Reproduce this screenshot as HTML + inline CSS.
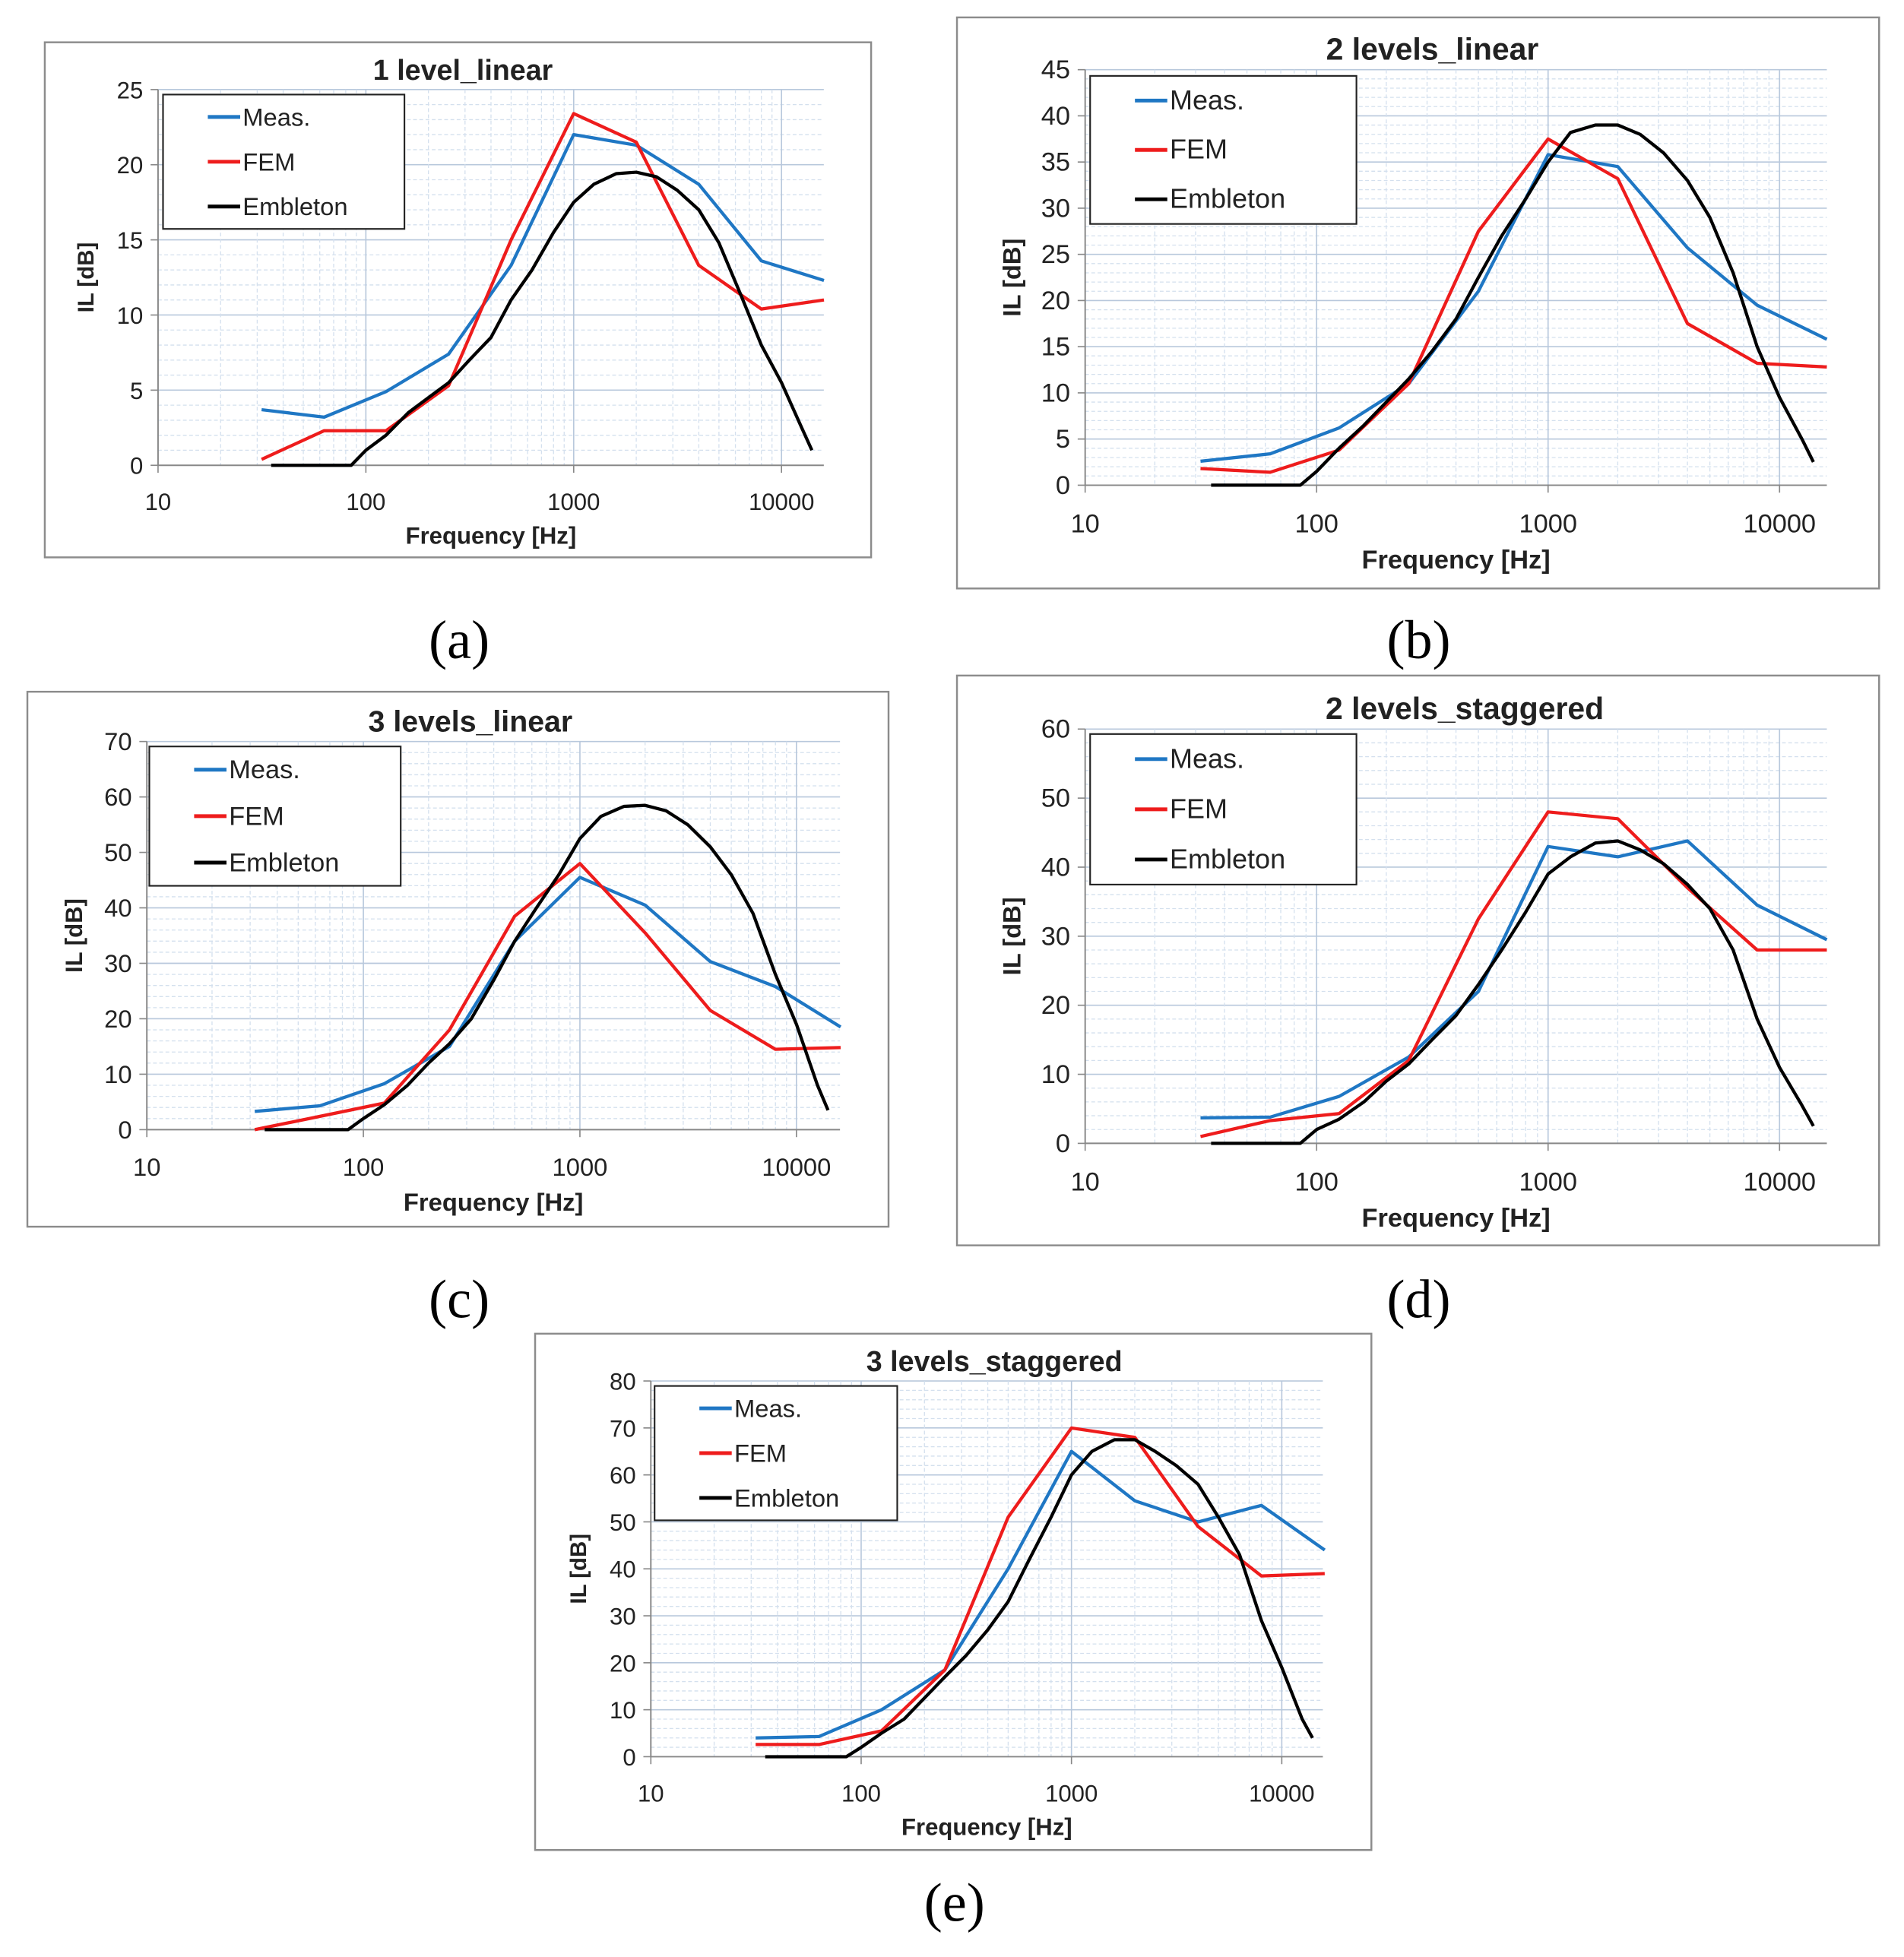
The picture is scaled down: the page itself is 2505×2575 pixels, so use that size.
<!DOCTYPE html>
<html><head><meta charset="utf-8"><style>
html,body{margin:0;padding:0;background:#fff;}
svg{display:block;}
text{font-family:"Liberation Sans",sans-serif;}
text.lab{font-family:"Liberation Serif",serif;}
</style></head><body>
<svg id="fig" width="2505" height="2575" viewBox="0 0 1530 1573" preserveAspectRatio="none" xmlns="http://www.w3.org/2000/svg"></svg>
<script>
const freqs = [31.5,63,125,250,500,1000,2000,4000,8000,16000];
const embFreqs = [35,85,100,125,160,200,250,315,400,500,630,800,1000,1250,1600,2000,2500,3150,4000,5000,6300,8000,10000,12500,14000];
const seriesNames = ["Meas.","FEM","Embleton"];
const measA = [3.7,3.2,4.9,7.4,13.3,22,21.3,18.7,13.6,12.3];
const femA = [0.4,2.3,2.3,5.3,15,23.4,21.5,13.3,10.4,11];
const embA = [0,0,1,2,3.5,4.5,5.5,7,8.5,11,13,15.5,17.5,18.7,19.4,19.5,19.2,18.3,17,14.8,11.5,8,5.5,2.5,1];
const measB = [2.6,3.4,6.2,11,21,35.8,34.5,25.7,19.5,15.8];
const femB = [1.8,1.4,3.8,11,27.5,37.5,33.2,17.5,13.2,12.8];
const embB = [0,0,1.5,4,6.5,9,11.5,14.5,18,22.5,27,31,35,38.2,39,39,38,36,33,29,23,15,9.5,5,2.5];
const measC = [3.3,4.3,8.3,15,34,45.5,40.5,30.3,25.8,18.5];
const femC = [0,2.4,4.8,18,38.5,48,35.5,21.5,14.5,14.8];
const embC = [0,0,2,4.5,8,12,15.5,20,27,34,40,46,52.5,56.5,58.3,58.5,57.5,55,51,46,39,28,19,8,3.5];
const measD = [3.7,3.8,6.8,12.5,22,43,41.5,43.8,34.5,29.5];
const femD = [1,3.3,4.3,12,32.5,48,47,37,28,28];
const embD = [0,0,2,3.5,6,9,11.5,15,18.5,23,28,33.5,39,41.5,43.5,43.8,42.5,40.5,37.5,34,28,18,11,5.5,2.5];
const measE = [4,4.3,10,18.5,40,65,54.5,50,53.5,44];
const femE = [2.6,2.6,5.5,18.5,51,70,68,49,38.5,39];
const embE = [0,0,2,5,8,12.5,17,21.5,27,33,42,51,60,65,67.5,67.5,65,62,58,51,43,29,19,8,4];
const xTickLabels = ["10","100","1000","10000"];

const NS="http://www.w3.org/2000/svg";
const svg=document.getElementById('fig');
function el(tag,attrs,parent){const e=document.createElementNS(NS,tag);for(const k in attrs)e.setAttribute(k,attrs[k]);(parent||svg).appendChild(e);return e;}

const panels=[
 {id:'a',title:'1 level_linear',tx:372,frame:[36,34,700,448],x10:127,dec:167,xR:662,y0:374,yT:72,yMax:25,step:5,leg:[131,76,325,184],meas:measA,fem:femA,emb:embA,lab:[369,515],fs:19},
 {id:'b',title:'2 levels_linear',tx:1151,frame:[769,14,1510,473],x10:872,dec:186,xR:1468,y0:390,yT:56,yMax:45,step:5,leg:[876,61,1090,180],meas:measB,fem:femB,emb:embB,lab:[1140,515],fs:21},
 {id:'c',title:'3 levels_linear',tx:378,frame:[22,556,714,986],x10:118,dec:174,xR:675,y0:908,yT:596,yMax:70,step:10,leg:[120,600,322,712],meas:measC,fem:femC,emb:embC,lab:[369,1045],fs:20},
 {id:'d',title:'2 levels_staggered',tx:1177,frame:[769,543,1510,1001],x10:872,dec:186,xR:1468,y0:919,yT:586,yMax:60,step:10,leg:[876,590,1090,711],meas:measD,fem:femD,emb:embD,lab:[1140,1045],fs:21},
 {id:'e',title:'3 levels_staggered',tx:799,frame:[430,1072,1102,1487],x10:523,dec:169,xR:1063,y0:1412,yT:1110,yMax:80,step:10,leg:[526,1114,721,1222],meas:measE,fem:femE,emb:embE,lab:[767,1530],fs:19}
];

panels.forEach(p=>{
  const g=el('g',{});
  
  
  const [fx1,fy1,fx2,fy2]=p.frame;
  const fr=el('rect',{x:fx1,y:fy1,width:fx2-fx1,height:fy2-fy1,fill:'#fff',stroke:'#8c8c8c','stroke-width':1.5},g);
  
  
  const X=f=>p.x10+Math.log10(f/10)*p.dec;
  const Y=v=>p.y0-(v/p.yMax)*(p.y0-p.yT);
  const grid=el('g',{},g);
  
  
  const minorStep=p.step/5;
  for(let v=minorStep;v<=p.yMax+1e-9;v+=minorStep){
    const major=Math.abs(v/p.step-Math.round(v/p.step))<1e-6;
    el('line',{x1:p.x10,x2:p.xR,y1:Y(v),y2:Y(v),stroke:major?'#b8c8dc':'#d4e0ee','stroke-width':major?1:0.8,'stroke-dasharray':major?'':'3,2'},grid);
  }
  for(let d=10;d<=10000;d*=10){
    for(let k=1;k<10;k++){
      const f=d*k; const x=X(f); if(x>p.xR+0.5) continue;
      if(k==1 && d==10) continue;
      el('line',{x1:x,x2:x,y1:p.yT,y2:p.y0,stroke:k==1?'#b8c8dc':'#d4e0ee','stroke-width':k==1?1:0.8,'stroke-dasharray':k==1?'':'3,2'},grid);
    }
  }
  el('line',{x1:p.x10,x2:p.xR,y1:p.y0,y2:p.y0,stroke:'#888','stroke-width':1.2},g);
  el('line',{x1:p.x10,x2:p.x10,y1:p.yT,y2:p.y0,stroke:'#888','stroke-width':1.2},g);
  for(let v=0;v<=p.yMax;v+=p.step){
    el('line',{x1:p.x10-6,x2:p.x10,y1:Y(v),y2:Y(v),stroke:'#888'},g);
    const t=el('text',{x:p.x10-12,y:Y(v)+7,'text-anchor':'end','font-size':p.fs,fill:'#222'},g);
    t.textContent=v;
    
    
  }
  xTickLabels.forEach(l=>{
    const x=X(+l);
    el('line',{x1:x,x2:x,y1:p.y0,y2:p.y0+6,stroke:'#888'},g);
    const t=el('text',{x:x,y:p.y0+p.fs+17,'text-anchor':'middle','font-size':p.fs,fill:'#222'},g);
    t.textContent=l;
    
    
  });
  const xt=el('text',{x:(p.x10+p.xR)/2,y:p.y0+p.fs*2+25,'text-anchor':'middle','font-size':p.fs,'font-weight':'bold',fill:'#222'},g);
  xt.textContent='Frequency [Hz]';
  
  
  const yx=p.x10-52, yy=(p.yT+p.y0)/2;
  const yt=el('text',{x:yx,y:yy,'text-anchor':'middle','font-size':p.fs-1,'font-weight':'bold',fill:'#222',transform:`rotate(-90 ${yx} ${yy})`},g);
  yt.textContent='IL [dB]';
  
  
  const tt=el('text',{x:p.tx,y:p.yT-8,'text-anchor':'middle','font-size':p.fs+4,'font-weight':'bold',fill:'#222'},g);
  tt.textContent=p.title;
  
  
  const colors=['#1f77c4','#ee1c1c','#000'];
  const sets=[[freqs,p.meas],[freqs,p.fem],[embFreqs,p.emb]];
  sets.forEach((s,i)=>{
    const pts=s[0].map((f,j)=>X(f).toFixed(1)+','+Y(s[1][j]).toFixed(1)).join(' ');
    const pl=el('polyline',{points:pts,fill:'none',stroke:colors[i],'stroke-width':2.6,'stroke-linejoin':'round'},g);
    
    
  });
  const [lx1,ly1,lx2,ly2]=p.leg;
  const lg=el('g',{},g);
  
  
  el('rect',{x:lx1,y:ly1,width:lx2-lx1,height:ly2-ly1,fill:'#fff',stroke:'#222','stroke-width':1.3},lg);
  const rowH=(ly2-ly1)/3;
  seriesNames.forEach((n,i)=>{
    const cy=ly1+rowH*(i+0.5);
    el('line',{x1:lx1+36,x2:lx1+62,y1:cy,y2:cy,stroke:colors[i],'stroke-width':3},lg);
    const t=el('text',{x:lx1+64,y:cy+7,'font-size':p.fs+1,fill:'#222'},lg);
    t.textContent=n;
    
    
  });
  const lab=el('text',{class:'lab',x:p.lab[0],y:p.lab[1]+14,'text-anchor':'middle','font-size':44,fill:'#000'});
  lab.textContent='('+p.id+')';
  
  
});
</script>
</body></html>
